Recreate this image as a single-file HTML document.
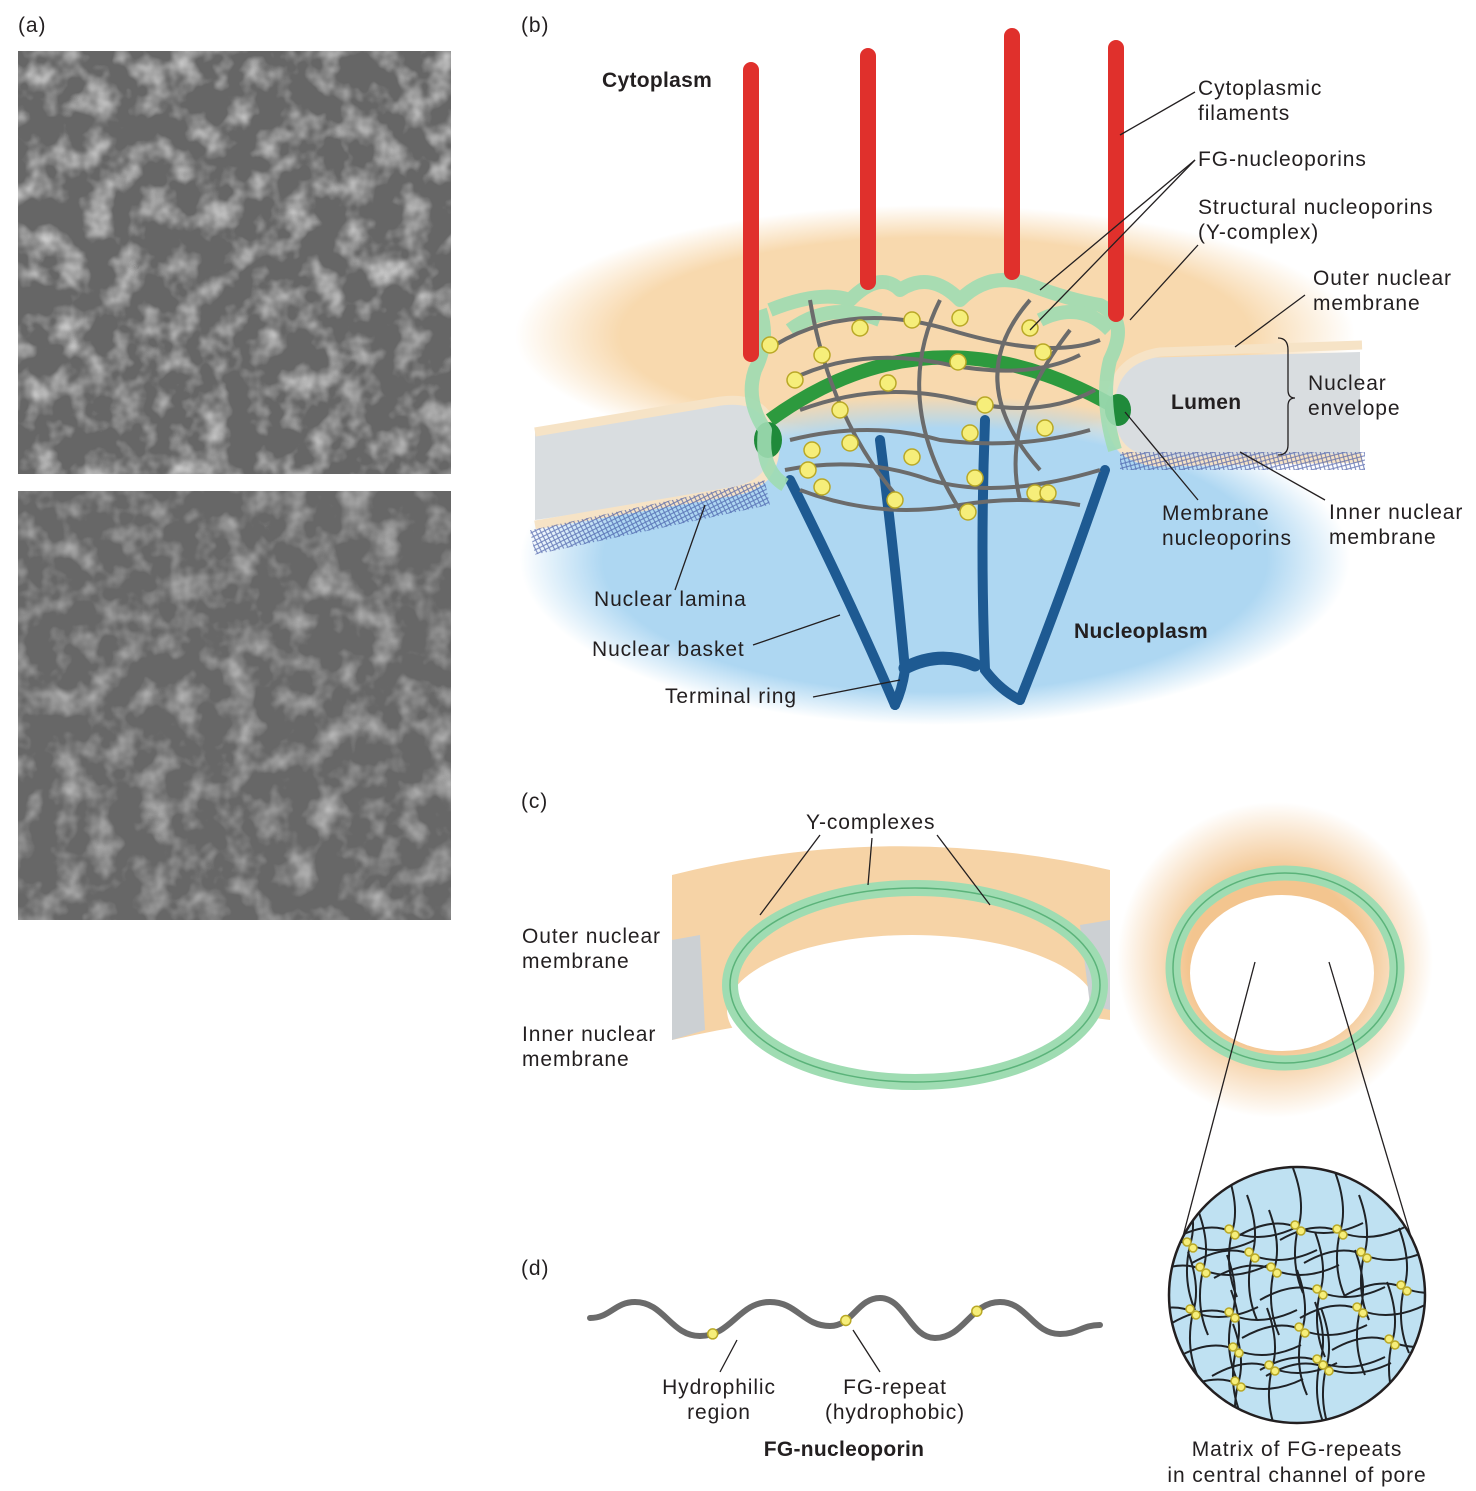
<!DOCTYPE html>
<html><head><meta charset="utf-8"><style>
html,body{margin:0;padding:0;background:#fff;}
svg{display:block;}
text{font-family:"Liberation Sans",sans-serif;font-size:21px;letter-spacing:0.9px;fill:#231f20;}
.b{font-weight:bold;letter-spacing:0.3px;}
</style></head><body>
<svg id="fig" width="1476" height="1491" viewBox="0 0 1476 1491" xmlns="http://www.w3.org/2000/svg">
<defs>
<filter id="sem2" x="0" y="0" width="100%" height="100%">
<feTurbulence type="fractalNoise" baseFrequency="0.035" numOctaves="3" seed="9" result="t"/>
<feColorMatrix in="t" type="matrix" values="0 0 0 0 0.8  0 0 0 0 0.8  0 0 0 0 0.8  1.8 0 0 0 -0.8"/>
</filter>
<radialGradient id="cyto" cx="0.5" cy="0.5" r="0.5"><stop offset="0.75" stop-color="#f8d9ae"/><stop offset="1" stop-color="#f8d9ae" stop-opacity="0"/></radialGradient>
<radialGradient id="nucl" cx="0.5" cy="0.5" r="0.5"><stop offset="0.8" stop-color="#aed7f2"/><stop offset="1" stop-color="#aed7f2" stop-opacity="0"/></radialGradient>
<radialGradient id="halo" cx="0.5" cy="0.5" r="0.5"><stop offset="0.55" stop-color="#f3c58f"/><stop offset="1" stop-color="#f3c58f" stop-opacity="0"/></radialGradient>
<clipPath id="circ"><circle cx="1297" cy="1295" r="128"/></clipPath>
<pattern id="mesh" width="6" height="6" patternUnits="userSpaceOnUse" patternTransform="rotate(30)"><path d="M0 0L6 6M6 0L0 6" stroke="#3a4fa0" stroke-width="1"/></pattern>
</defs>

<!-- panel a -->
<text x="18" y="32">(a)</text>
<g>
<rect x="18" y="51" width="433" height="423" fill="#666"/>
<rect x="18" y="51" width="433" height="423" fill="#fff" filter="url(#sem2)"/>
</g>
<g>
<rect x="18" y="491" width="433" height="429" fill="#676767"/>
<rect x="18" y="491" width="433" height="429" fill="#fff" filter="url(#sem2)" opacity="0.75"/>
</g>

<!-- panel b -->
<text x="521" y="32">(b)</text>
<ellipse cx="935" cy="335" rx="420" ry="130" fill="url(#cyto)"/>
<ellipse cx="935" cy="560" rx="415" ry="165" fill="url(#nucl)"/>
<path d="M535 428 L720 400 Q760 395 770 420 L770 470 Q775 485 740 490 L535 520 Z" fill="#d9dde0"/>
<path d="M1360 352 L1140 358 Q1115 365 1112 395 L1112 440 Q1118 462 1150 462 L1360 455 Z" fill="#d9dde0"/>
<g fill="none" stroke="#f6e3c6" stroke-width="9">
<path d="M535 432 L715 402 Q770 392 775 440 Q778 485 730 492 L535 525"/>
<path d="M1362 345 L1160 352 Q1110 360 1110 410 Q1110 460 1160 462 L1362 458"/>
</g>
<rect x="530" y="505" width="240" height="25" fill="url(#mesh)" transform="rotate(-12 650 518)" opacity="0.7"/>
<rect x="1120" y="452" width="245" height="18" fill="url(#mesh)" opacity="0.7"/>
<g id="basket" fill="none" stroke="#1e5a92" stroke-width="10" stroke-linecap="round">
<path d="M790 480 Q850 600 895 705"/>
<path d="M880 440 Q895 560 905 670 Q902 690 895 705"/>
<path d="M985 420 Q980 550 985 670 Q1000 690 1020 700"/>
<path d="M1105 470 Q1060 600 1020 700"/>
<path d="M905 668 Q940 650 975 665" stroke-width="13"/>
</g>
<path d="M770 420 Q935 300 1120 410" fill="none" stroke="#2d9a3e" stroke-width="14"/>
<ellipse cx="768" cy="440" rx="14" ry="18" fill="#1f8a3a"/>
<ellipse cx="1118" cy="410" rx="13" ry="16" fill="#1f8a3a"/>
<g fill="none" stroke="#9fdcb2" stroke-width="14" stroke-linejoin="round" opacity="0.9">
<path d="M760 310 Q770 340 755 370 Q745 400 765 430 Q760 470 785 485"/>
<path d="M770 310 Q820 290 850 300 Q880 270 900 290 Q930 270 960 300 Q990 270 1030 285 Q1070 300 1100 305 Q1130 320 1110 360 Q1100 400 1115 450"/>
<path d="M790 330 Q830 300 880 320"/><path d="M1040 320 Q1080 300 1110 330"/>
</g>
<g id="fgstrands" fill="none" stroke="#6b6b6b" stroke-width="4">
<path d="M775 345 Q850 300 950 330 Q1050 360 1100 340"/>
<path d="M790 380 Q860 345 950 365 Q1030 380 1080 355"/>
<path d="M800 410 Q880 380 960 400 Q1040 420 1095 390"/>
<path d="M790 440 Q870 420 940 440 Q1020 450 1090 430"/>
<path d="M785 470 Q860 455 930 480 Q1000 500 1100 470"/>
<path d="M800 490 Q880 520 960 505 Q1020 495 1080 505"/>
<path d="M810 300 Q830 420 900 500"/>
<path d="M940 300 Q890 400 960 510"/>
<path d="M1030 300 Q960 380 1040 470"/>
<path d="M1070 330 Q1000 420 1020 500"/>
</g>
<g id="yellowdots"></g>
<g fill="#e0302c">
<rect x="743" y="62" width="16" height="300" rx="8"/>
<rect x="860" y="48" width="16" height="242" rx="8"/>
<rect x="1004" y="28" width="16" height="252" rx="8"/>
<rect x="1108" y="40" width="16" height="282" rx="8"/>
</g>
<g stroke="#231f20" stroke-width="1.3" fill="none">
<path d="M1195 92 L1120 135"/><path d="M1195 160 L1040 290"/><path d="M1195 160 L1030 330"/>
<path d="M1198 245 L1130 320"/><path d="M1305 295 L1235 347"/><path d="M1325 500 L1240 452"/>
<path d="M1198 500 L1125 412"/><path d="M675 590 L705 505"/><path d="M753 645 L840 615"/>
<path d="M813 697 L900 680"/>
<path d="M1278 338 Q1288 338 1288 350 L1288 390 Q1288 398 1295 398 Q1288 398 1288 406 L1288 445 Q1288 455 1278 455"/>
</g>
<text x="602" y="87" class="b">Cytoplasm</text>
<text x="1198" y="95"><tspan x="1198">Cytoplasmic</tspan><tspan x="1198" dy="25">filaments</tspan></text>
<text x="1198" y="166">FG-nucleoporins</text>
<text x="1198" y="214"><tspan x="1198">Structural nucleoporins</tspan><tspan x="1198" dy="25">(Y-complex)</tspan></text>
<text x="1313" y="285"><tspan x="1313">Outer nuclear</tspan><tspan x="1313" dy="25">membrane</tspan></text>
<text x="1308" y="390"><tspan x="1308">Nuclear</tspan><tspan x="1308" dy="25">envelope</tspan></text>
<text x="1171" y="409" class="b">Lumen</text>
<text x="1162" y="520"><tspan x="1162">Membrane</tspan><tspan x="1162" dy="25">nucleoporins</tspan></text>
<text x="1329" y="519"><tspan x="1329">Inner nuclear</tspan><tspan x="1329" dy="25">membrane</tspan></text>
<text x="594" y="606">Nuclear lamina</text>
<text x="592" y="656">Nuclear basket</text>
<text x="665" y="703">Terminal ring</text>
<text x="1074" y="638" class="b">Nucleoplasm</text>

<!-- panel c -->
<text x="521" y="808">(c)</text>
<path d="M672 875 Q890 820 1110 870 L1110 1020 Q890 990 672 1040 Z" fill="#f6d3a6"/>
<ellipse cx="912" cy="1010" rx="185" ry="75" fill="#fff"/>
<path d="M672 940 L700 935 L705 1030 L672 1040Z" fill="#ccd0d3"/>
<path d="M1080 925 L1110 920 L1110 1010 L1090 1005Z" fill="#ccd0d3"/>
<ellipse cx="915" cy="985" rx="185" ry="97" fill="none" stroke="#9fdcb2" stroke-width="16"/>
<ellipse cx="915" cy="985" rx="185" ry="97" fill="none" stroke="#5bb37a" stroke-width="1.5"/>
<circle cx="1275" cy="960" r="158" fill="url(#halo)"/>
<ellipse cx="1282" cy="973" rx="92" ry="78" fill="#fff"/>
<ellipse cx="1285" cy="968" rx="112" ry="95" fill="none" stroke="#9fdcb2" stroke-width="15"/>
<ellipse cx="1285" cy="968" rx="112" ry="95" fill="none" stroke="#5bb37a" stroke-width="1.5"/>
<g stroke="#231f20" stroke-width="1.3">
<path d="M820 835 L760 915"/><path d="M872 838 L868 885"/><path d="M937 835 L990 905"/>
<path d="M1255 962 L1182 1240"/><path d="M1329 962 L1412 1240"/>
</g>
<text x="806" y="829">Y-complexes</text>
<text x="522" y="943"><tspan x="522">Outer nuclear</tspan><tspan x="522" dy="25">membrane</tspan></text>
<text x="522" y="1041"><tspan x="522">Inner nuclear</tspan><tspan x="522" dy="25">membrane</tspan></text>

<circle cx="1297" cy="1295" r="128" fill="#bfe1f2" stroke="#231f20" stroke-width="2.5"/>
<g id="matrix" clip-path="url(#circ)"></g>
<text x="1297" y="1456" text-anchor="middle"><tspan x="1297">Matrix of FG-repeats</tspan><tspan x="1297" dy="26">in central channel of pore</tspan></text>

<!-- panel d -->
<text x="521" y="1275">(d)</text>
<path id="wave" fill="none" stroke="#6b6b6b" stroke-width="6" stroke-linecap="round"/>
<g id="wavedots"></g>
<g stroke="#231f20" stroke-width="1.3">
<path d="M720 1372 L737 1340"/><path d="M880 1372 L853 1330"/>
</g>
<text x="719" y="1394" text-anchor="middle"><tspan x="719">Hydrophilic</tspan><tspan x="719" dy="25">region</tspan></text>
<text x="895" y="1394" text-anchor="middle"><tspan x="895">FG-repeat</tspan><tspan x="895" dy="25">(hydrophobic)</tspan></text>
<text x="844" y="1456" text-anchor="middle" class="b">FG-nucleoporin</text>
</svg>
<script>
const poreDotsX=[770,795,822,860,912,960,1030,1043,958,888,840,812,850,912,970,985,1045,808,822,895,968,1035,1048,975];
const poreDotsY=[345,380,355,328,320,318,328,352,362,383,410,450,443,457,433,405,428,470,487,500,512,493,493,478];
const matX=[1190,1232,1252,1298,1340,1203,1274,1320,1364,1404,1232,1302,1360,1236,1320,1193,1272,1392,1238,1326];
const matY=[1245,1232,1255,1228,1232,1270,1270,1292,1255,1288,1315,1330,1310,1350,1362,1312,1368,1342,1384,1368];
const waveX=[590,635,700,770,830,880,935,1000,1060,1100];
const waveY=[1318,1302,1336,1302,1326,1298,1338,1302,1334,1325];
const waveDotX=[713,846,977];
const NS='http://www.w3.org/2000/svg';
function dot(g,x,y,r){const c=document.createElementNS(NS,'circle');


c.setAttribute('cx',x);c.setAttribute('cy',y);c.setAttribute('r',r);c.setAttribute('fill','#f6ee7a');c.setAttribute('stroke','#b9a826');c.setAttribute('stroke-width','1.5');g.appendChild(c);}
const yd=document.getElementById('yellowdots');
poreDotsX.forEach((x,i)=>dot(yd,x,poreDotsY[i],8));
const m=document.getElementById('matrix');
for(let i=0;i<matX.length;i++){
 const p=document.createElementNS(NS,'path');
 
 
 const x=matX[i],y=matY[i];
 p.setAttribute('d',`M${x-60} ${y+8} Q${x-25} ${y-12} ${x} ${y} Q${x+30} ${y+12} ${x+65} ${y-5} M${x-5} ${y-60} Q${x+8} ${y-25} ${x} ${y} Q${x-8} ${y+35} ${x+5} ${y+65}`);
 p.setAttribute('fill','none');p.setAttribute('stroke','#1f2226');p.setAttribute('stroke-width','2');m.appendChild(p);
}
matX.forEach((x,i)=>{dot(m,x-3,matY[i]-3,4);dot(m,x+3,matY[i]+3,4);});
let d=`M${waveX[0]} ${waveY[0]}`;
for(let i=1;i<waveX.length;i++){const dx=(waveX[i]-waveX[i-1])*0.45;d+=` C${waveX[i-1]+dx} ${waveY[i-1]} ${waveX[i]-dx} ${waveY[i]} ${waveX[i]} ${waveY[i]}`;}
const wave=document.getElementById('wave');
wave.setAttribute('d',d);
const wd=document.getElementById('wavedots');
const L=wave.getTotalLength();
waveDotX.forEach(tx=>{let best=null;for(let s=0;s<=L;s+=1){const p=wave.getPointAtLength(s);if(!best||Math.abs(p.x-tx)<Math.abs(best.x-tx))best=p;}dot(wd,best.x,best.y,5);});
</script>
</body></html>
